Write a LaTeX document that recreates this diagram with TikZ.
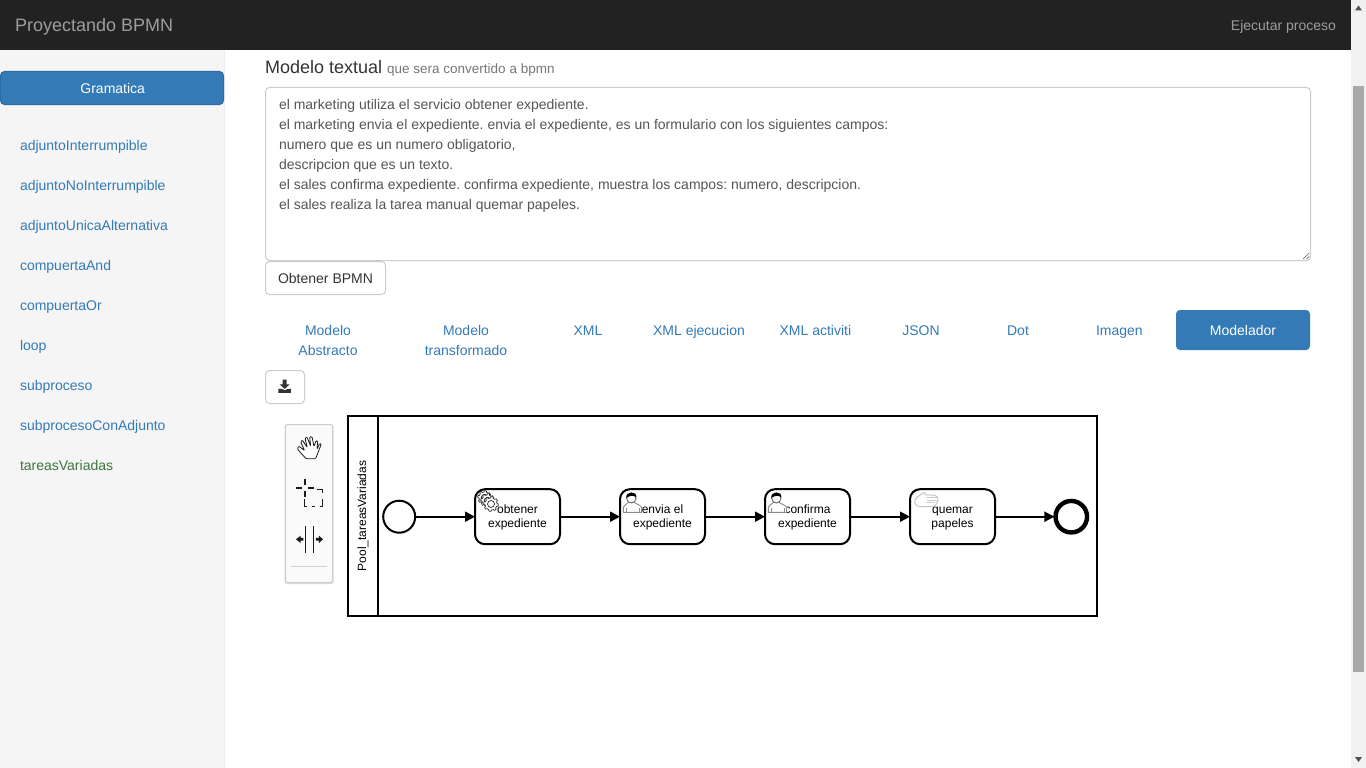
\documentclass[tikz,border=0pt]{standalone}
\usepackage{fontspec}
\setmainfont{Liberation Sans}
\usetikzlibrary{arrows.meta}
\definecolor{navbg}{HTML}{222222}
\definecolor{navtxt}{HTML}{9D9D9D}
\definecolor{sidebg}{HTML}{F5F5F5}
\definecolor{sideline}{HTML}{EEEEEE}
\definecolor{linkblue}{HTML}{337AB7}
\definecolor{btnedge}{HTML}{2E6DA4}
\definecolor{bodytxt}{HTML}{333333}
\definecolor{mutedtxt}{HTML}{777777}
\definecolor{areatxt}{HTML}{555555}
\definecolor{edgegrey}{HTML}{CCCCCC}
\definecolor{greenlink}{HTML}{3C763D}
\definecolor{scrollbg}{HTML}{F1F1F1}
\definecolor{scrollthumb}{HTML}{A8A8A8}
\definecolor{scrollarrow}{HTML}{505050}
\definecolor{palbg}{HTML}{FAFAFA}
\definecolor{iconink}{HTML}{1A1A1A}
\tikzset{
  x=1pt,y=-1pt,
  t12/.style={font=\fontsize{12}{14}\selectfont,inner sep=0pt,outer sep=0pt},
  t14/.style={font=\fontsize{14}{20}\selectfont\frenchspacing,inner sep=0pt,outer sep=0pt},
  sidelink/.style={t14,anchor=base west,text=linkblue},
  arealine/.style={t14,anchor=base west,text=areatxt},
  tablink/.style={t14,anchor=base,text=linkblue,align=center},
  plainbtn/.style={draw=edgegrey,fill=white,rounded corners=4pt,line width=1pt},
  task/.style={draw=black,fill=white,line width=2pt,rounded corners=10pt,minimum width=85pt,minimum height=55pt,inner sep=0pt,align=center,font=\fontsize{12}{14}\selectfont},
  startev/.style={circle,draw=black,fill=white,line width=2pt,minimum size=32pt,inner sep=0pt},
  endev/.style={circle,draw=black,fill=white,line width=4.4pt,minimum size=31.5pt,inner sep=0pt},
  flow/.style={draw=black,line width=2pt,-{Triangle[length=10pt,width=10pt]},shorten >=-1pt},
  toolink/.style={draw=iconink,line width=0.8pt,line join=round},
}
\newcommand{\tasktop}{\rule{0pt}{10.8pt}}
\newcommand{\usericon}[2]{%
  \begin{scope}[shift={(#1,#2)},x=0.3333pt,y=-0.3333pt]
    \draw[draw=black!45,fill=white,line width=0.9pt,line join=round] (70,127) -- (70,112) .. controls (72,104) and (80,103) .. (86,97) -- (102,97) .. controls (108,103) and (120,104) .. (125,112) -- (125,127) -- cycle;
    \draw[draw=black!45,line width=0.8pt] (78,127) -- (78,114) (117,127) -- (117,114);
    \draw[draw=black!60,fill=white,line width=0.9pt] (94,85) circle (14);
    \fill[black] (79,84) .. controls (76,62) and (112,62) .. (109,82) .. controls (100,75) and (90,76) .. (79,84) -- cycle;
  \end{scope}}
\newcommand{\gearshape}[3]{%
  \draw[draw=black!85,fill=white,line width=0.7pt,line join=round] plot[domain=0:360,samples=65] ({#1+(#3+(mod(round(\x/5.625),8)<4?1.3:0))*cos(\x)},{#2+(#3+(mod(round(\x/5.625),8)<4?1.3:0))*sin(\x)}) -- cycle;
  \draw[draw=black!85,line width=0.7pt] (#1,#2) circle ({#3*0.58});}
\begin{document}
\begin{tikzpicture}
\useasboundingbox (0,0) rectangle (1366,768);
\fill[white] (0,0) rectangle (1366,768);
% sidebar
\fill[sidebg] (0,50) rectangle (224.5,768);
\draw[sideline,line width=1pt] (224.5,50) -- (224.5,768);
% navbar
\fill[navbg] (0,0) rectangle (1351,50);
\node[anchor=base west,text=navtxt,inner sep=0pt,font=\fontsize{18}{20}\selectfont] (brand) at (15,32) {Proyectando BPMN};
\node[t14,anchor=base east,text=navtxt] (run) at (1336,31) {Ejecutar proceso};
% scrollbar
\fill[scrollbg] (1351,0) rectangle (1366,768);
\fill[scrollthumb] (1353,86) rectangle (1364,672);
\fill[scrollarrow] (1355,10.5) -- (1358.5,5.5) -- (1362,10.5) -- cycle;
\fill[scrollarrow] (1355,757) -- (1358.5,762) -- (1362,757) -- cycle;
% sidebar contents
\node[draw=btnedge,fill=linkblue,rounded corners=4pt,line width=1pt,minimum width=223pt,minimum height=33pt,inner sep=0pt,text=white,font=\fontsize{14}{20}\selectfont] (gram) at (112,88) {\hspace*{1.4pt}Gramatica};
\foreach \lab/\yy/\nm in {adjuntoInterrumpible/150/a,adjuntoNoInterrumpible/190/b,adjuntoUnicaAlternativa/230/c,compuertaAnd/270/d,compuertaOr/310/e,loop/350/f,subproceso/390/g,subprocesoConAdjunto/430/h}
  \node[sidelink] (side\nm) at (20,\yy) {\lab};
\node[sidelink,text=greenlink] (sidei) at (20,470) {tareasVariadas};
% heading
\node[anchor=base west,text=bodytxt,inner sep=0pt,font=\fontsize{18}{20}\selectfont] (head) at (265,73.6) {Modelo textual};
\node[anchor=base west,text=mutedtxt,inner sep=0pt,font=\fontsize{13.5}{20}\selectfont] (headsub) at (387,73.6) {que sera convertido a bpmn};
% textarea
\draw[draw=edgegrey,fill=white,line width=1pt,rounded corners=4pt] (265.5,87.5) rectangle (1310.5,260.5);
\draw[black!55,line width=0.7pt] (1303,259) -- (1309,253) (1306.5,259) -- (1309,256.5);
\node[arealine] (l1) at (279,109.4) {el marketing utiliza el servicio obtener expediente.};
\node[arealine] (l2) at (279,129.4) {el marketing envia el expediente. envia el expediente, es un formulario con los siguientes campos:};
\node[arealine] (l3) at (279,149.4) {numero que es un numero obligatorio,};
\node[arealine] (l4) at (279,169.4) {descripcion que es un texto.};
\node[arealine] (l5) at (279,189.4) {el sales confirma expediente. confirma expediente, muestra los campos: numero, descripcion.};
\node[arealine] (l6) at (279,209.4) {el sales realiza la tarea manual quemar papeles.};
% button
\draw[plainbtn] (265.5,261.5) rectangle (385.5,294.5);
\node[t14,text=bodytxt] (obt) at (325.5,278) {Obtener BPMN};
% tabs
\node[tablink] (tab1) at (328,355) {Modelo\\Abstracto};
\node[tablink] (tab2) at (466,355) {Modelo\\transformado};
\node[tablink] (tab3) at (588,335) {XML};
\node[tablink] (tab4) at (699,335) {XML ejecucion};
\node[tablink] (tab5) at (815.4,335) {XML activiti};
\node[tablink] (tab6) at (921,335) {JSON};
\node[tablink] (tab7) at (1018,335) {Dot};
\node[tablink] (tab8) at (1119.4,335) {Imagen};
\fill[linkblue,rounded corners=4pt] (1176,310) rectangle (1310,350);
\node[t14,text=white] (tab9) at (1243,330) {Modelador};
% download button
\draw[plainbtn] (265.5,370.5) rectangle (304.5,403.5);
\begin{scope}[shift={(260,250)},x=0.3333pt,y=-0.3333pt]
  \fill[bodytxt] (68,389) -- (80,389) -- (80,403) -- (89,403) -- (74,417) -- (59,403) -- (68,403) -- cycle;
  \fill[bodytxt] (55,417) -- (66,417) -- (74,421) -- (82,417) -- (93,417) -- (93,429) -- (55,429) -- cycle;
\end{scope}
% palette
\fill[black!13,rounded corners=2pt] (284.5,425) rectangle (333.5,584);
\draw[draw=edgegrey,fill=palbg,rounded corners=2pt,line width=1pt] (285.5,424.5) rectangle (332.5,582.5);
\begin{scope}[shift={(270,410)},x=0.3333pt,y=-0.3333pt]
  % hand tool
  \draw[toolink,fill=white,rounded corners=1pt] (108,146) -- (82,117) -- (86,108) -- (104,122) -- (92,96) -- (97,90) -- (112,113) -- (105,85) -- (111,81) -- (122,109) -- (119,80) -- (126,80) -- (132,110) -- (138,92) -- (143,93) -- (141,118) -- (149,100) -- (154,102) -- (137,146) -- cycle;
  % lasso tool
  \draw[iconink,line width=2pt] (78,235) -- (97,235) (113,235) -- (132,235) (105,208) -- (105,226) (105,244) -- (105,262);
  \draw[iconink,line width=0.9pt] (142,237) -- (158,237) -- (158,248) (158,268) -- (158,288) -- (150,288) (135,288) -- (125,288) (112,288) -- (103,288) -- (103,266);
  % space tool
  \draw[iconink,line width=0.8pt] (107,348) -- (107,428) (130,348) -- (130,428);
  \fill[iconink] (78,388) -- (92,377) -- (92,384) -- (100,384) -- (100,392) -- (92,392) -- (92,399) -- cycle;
  \fill[iconink] (159,388) -- (147,377) -- (147,384) -- (138,384) -- (138,392) -- (147,392) -- (147,399) -- cycle;
  % separator
  \draw[black!18,line width=0.8pt] (63,468) -- (171,468);
\end{scope}
% pool
\draw[black,line width=2pt] (348,416) rectangle (1097,616);
\draw[black,line width=2pt] (378,416) -- (378,616);
\node[t12,rotate=90] (poollabel) at (363,516) {Pool\_tareasVariadas};
% events and tasks
\node[startev] (start) at (399.2,516.7) {};
\node[task] (t1) at (517.5,516.7) {\tasktop obtener\\expediente};
\node[task] (t2) at (662.5,516.7) {\tasktop envia el\\expediente};
\node[task] (t3) at (807.5,516.7) {\tasktop confirma\\expediente};
\node[task] (t4) at (952.5,516.7) {\tasktop quemar\\papeles};
\node[endev] (finish) at (1071.3,516.7) {};
\draw[flow] (start) -- (t1);
\draw[flow] (t1) -- (t2);
\draw[flow] (t2) -- (t3);
\draw[flow] (t3) -- (t4);
\draw[flow] (t4) -- (finish);
% task markers
\begin{scope}
  \gearshape{484.5}{497.5}{5.5}
  \gearshape{487.5}{500.5}{5.5}
  \gearshape{491}{504}{6}
\end{scope}
\usericon{600}{470}
\usericon{745}{470}
\begin{scope}[shift={(600,470)},x=0.3333pt,y=-0.3333pt]
  \draw[draw=black!22,fill=white,fill opacity=0.35,line width=1pt,line join=round,rounded corners=1.5pt] (943,100) -- (947,85) -- (968,70) -- (978,66) -- (972,74) -- (1008,76) -- (1015,84) -- (1012,100) -- (1000,110) -- (955,110) -- cycle;
  \draw[draw=black!22,line width=0.8pt] (980,82) -- (1012,82) (980,90) -- (1012,90) (980,98) -- (1006,98);
\end{scope}
\end{tikzpicture}
\end{document}
